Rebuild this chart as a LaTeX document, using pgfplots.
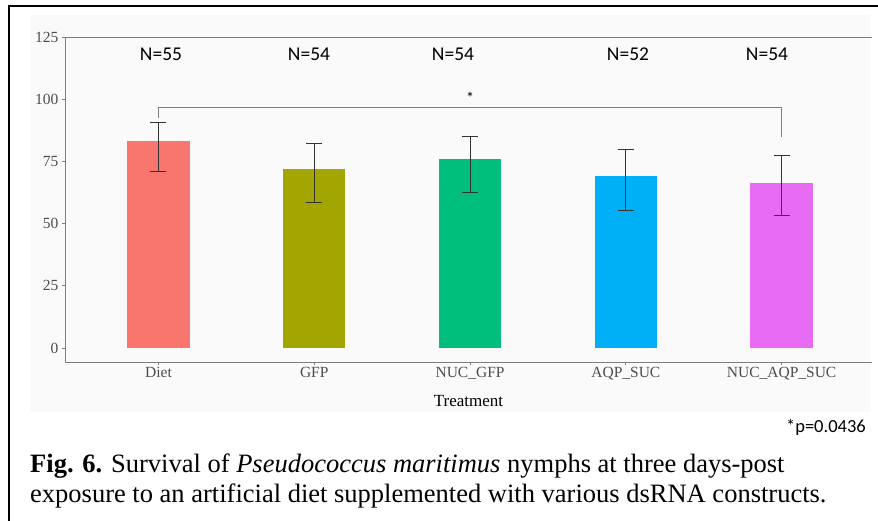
\documentclass[border=0pt]{standalone}
\usepackage{pgfplots}
\pgfplotsset{compat=1.18}
\usepackage{fontspec}
\setmainfont{Liberation Serif}
\newfontfamily\calfont{Carlito}
\definecolor{cDiet}{HTML}{F8766D}
\definecolor{cGFP}{HTML}{A3A500}
\definecolor{cNGFP}{HTML}{00BF7D}
\definecolor{cAQP}{HTML}{00B0F6}
\definecolor{cNAQP}{HTML}{E76BF3}
\definecolor{bgc}{RGB}{250,250,250}
\definecolor{axc}{RGB}{125,125,125}
\definecolor{labc}{RGB}{77,77,77}
\definecolor{errc}{RGB}{51,51,51}
\begin{document}
\begin{tikzpicture}[x=1pt,y=1pt]
\path[use as bounding box] (0,0) rectangle (878,521);
\fill[bgc] (30,109) rectangle (871,506);
\draw[black, line width=1.3pt] (9,0) -- (9,515) -- (878,515);
\begin{axis}[
  at={(65pt,159pt)}, anchor=south west,
  scale only axis, width=807pt, height=325pt,
  xmin=0.4, xmax=5.58, ymin=-5.6, ymax=125,
  axis x line*=bottom, axis y line*=left,
  axis line style={-, axc, line width=0.9pt},
  tick style={axc, line width=0.9pt},
  tick align=outside, major tick length=3pt,
  xtick={1,2,3,4,5},
  xticklabels={Diet,GFP,NUC\_GFP,AQP\_SUC,NUC\_AQP\_SUC},
  ytick={0,25,50,75,100,125},
  yticklabels={0,25,50,75,100,125},
  ticklabel style={font=\fontsize{15.5}{15.5}\selectfont, text=labc},
  xticklabel style={anchor=base, yshift=-13pt},
  xlabel={Treatment},
  xlabel style={at={(axis description cs:0.5,0)}, anchor=center, yshift=-39pt, font=\fontsize{17}{17}\selectfont, text=black},
  ybar, bar width=0.4, 
  error bars/y dir=both, error bars/y explicit,
  error bars/error bar style={line width=0.8pt, errc},
  error bars/error mark options={rotate=90, mark size=8pt, line width=0.8pt, errc},
]
\addplot[fill=cDiet, draw=none, bar shift=0pt] coordinates {(1,83.2) += (0,7.6) -= (0,12.1)};
\addplot[fill=cGFP, draw=none, bar shift=0pt] coordinates {(2,72.0) += (0,10.1) -= (0,13.4)};
\addplot[fill=cNGFP, draw=none, bar shift=0pt] coordinates {(3,75.8) += (0,9.3) -= (0,13.4)};
\addplot[fill=cAQP, draw=none, bar shift=0pt] coordinates {(4,69.1) += (0,10.6) -= (0,13.7)};
\addplot[fill=cNAQP, draw=none, bar shift=0pt] coordinates {(5,66.4) += (0,11.0) -= (0,13.2)};
\draw[axc, line width=0.9pt] (rel axis cs:0,1) -- (rel axis cs:1,1);
\draw[axc, line width=0.9pt] (axis cs:1,92.6) -- (axis cs:1,96.6) -- (axis cs:5,96.6) -- (axis cs:5,85);
\node[font=\calfont\fontsize{16}{16}\selectfont] at (axis cs:3,100.6) {*};
\end{axis}
\node[font=\calfont\fontsize{19.5}{19.5}\selectfont] at (161,467) {N=55};
\node[font=\calfont\fontsize{19.5}{19.5}\selectfont] at (309,467) {N=54};
\node[font=\calfont\fontsize{19.5}{19.5}\selectfont] at (453,467) {N=54};
\node[font=\calfont\fontsize{19.5}{19.5}\selectfont] at (628,467) {N=52};
\node[font=\calfont\fontsize{19.5}{19.5}\selectfont] at (767,467) {N=54};
\node[anchor=base east, font=\calfont\fontsize{18.5}{18.5}\selectfont, inner sep=0pt] at (866,88) {*p=0.0436};
\node[anchor=base west, inner sep=0pt, font=\fontsize{26.5}{26.5}\selectfont] at (30,48) {\textbf{Fig. 6.} Survival of \textit{Pseudococcus maritimus} nymphs at three days-post};
\node[anchor=base west, inner sep=0pt, font=\fontsize{26.5}{26.5}\selectfont] at (30,18) {exposure to an artificial diet supplemented with various dsRNA constructs.};
\end{tikzpicture}
\end{document}
